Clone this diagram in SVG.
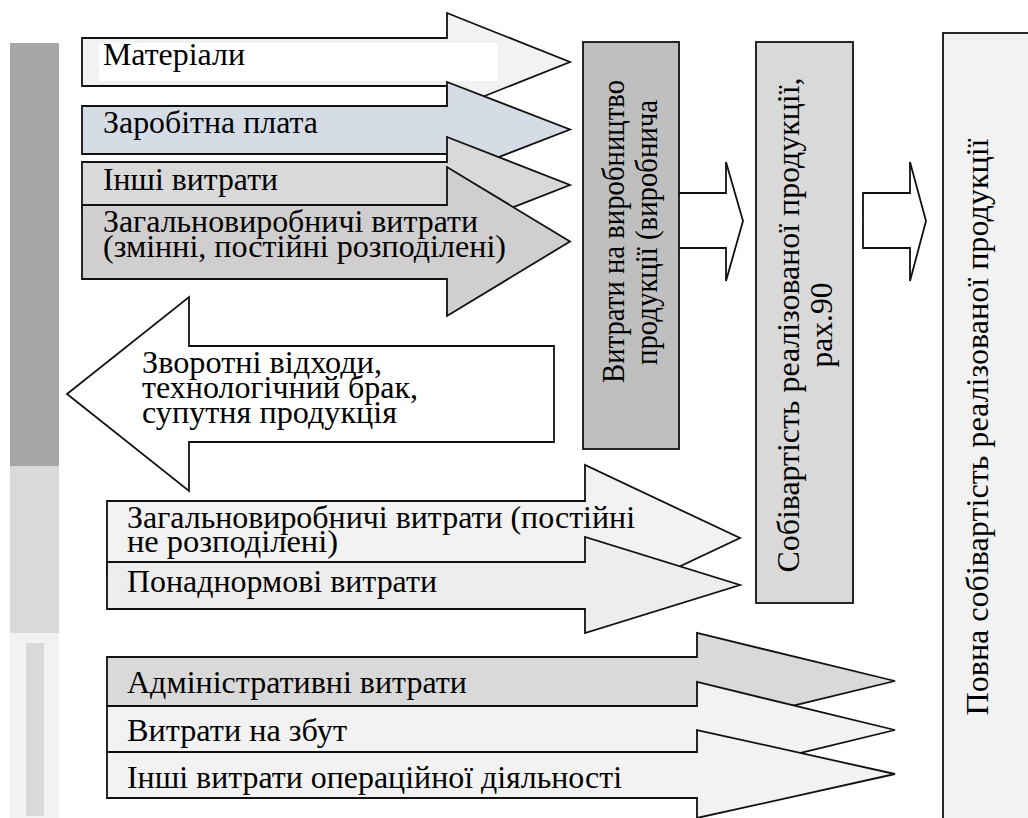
<svg xmlns="http://www.w3.org/2000/svg" width="1028" height="818" viewBox="0 0 1028 818">
<style>
  .ar{stroke:#111;stroke-width:1.8;stroke-linejoin:miter}
  .bx{stroke:#111;stroke-width:1.8}
  .t{font-family:'Liberation Serif','Times New Roman',serif;font-size:32px;fill:#000}
  .mid{text-anchor:middle}
</style>
<rect width="1028" height="818" fill="#fff"/>
<g id="sidebar">
  <rect x="10" y="43" width="49" height="423" fill="#a6a6a6"/>
  <rect x="10" y="466" width="49" height="167" fill="#d9d9d9"/>
  <rect x="10" y="633" width="49" height="185" fill="#f2f2f2"/>
  <rect x="26" y="643" width="18" height="173" fill="#d9d9d9"/>
</g>
<g id="connectors">
  <path class="ar" fill="#fff" d="M679,193 H726 V162 L743,221 L726,281 V248 H679"/>
  <polygon class="ar" fill="#fff" points="863,193 910,193 910,162 926,221 910,281 910,248 863,248"/>
</g>
<g id="n-materialy">
  <polygon class="ar" fill="#f2f2f2" points="82,38 447,38 447,13 570,62 447,111 447,86 82,86"/>
  <rect x="99" y="43" width="399" height="38" fill="#fff"/>
  <text class="t" x="103" y="65" textLength="142" lengthAdjust="spacingAndGlyphs">Матеріали</text>
</g>
<g id="n-zarplata">
  <polygon class="ar" fill="#d6dce5" points="82,106 447,106 447,82 570,129.5 447,177 447,154 82,154"/>
  <text class="t" x="103" y="133" textLength="215" lengthAdjust="spacingAndGlyphs">Заробітна плата</text>
</g>
<g id="n-inshi">
  <polygon class="ar" fill="#d9d9d9" points="82,162 447,162 447,137 570,185 447,233 447,208 82,208"/>
  <text class="t" x="103" y="190" textLength="175" lengthAdjust="spacingAndGlyphs">Інші витрати</text>
</g>
<g id="n-zagalno1">
  <polygon class="ar" fill="#d0cece" points="82,205 447,205 447,167 570,241.5 447,316 447,279 82,279"/>
  <text class="t" x="103" y="232" textLength="375" lengthAdjust="spacingAndGlyphs">Загальновиробничі витрати</text>
  <text class="t" x="103" y="257" textLength="403" lengthAdjust="spacingAndGlyphs">(змінні, постійні розподілені)</text>
</g>
<g id="n-vidkhody">
  <polygon class="ar" fill="#fff" points="554,346 189,346 189,297 67,394 189,491 189,442 554,442"/>
  <text class="t" x="142" y="373" textLength="240" lengthAdjust="spacingAndGlyphs">Зворотні відходи,</text>
  <text class="t" x="142" y="398" textLength="276" lengthAdjust="spacingAndGlyphs">технологічний брак,</text>
  <text class="t" x="142" y="423" textLength="255" lengthAdjust="spacingAndGlyphs">супутня продукція</text>
</g>
<g id="n-zagalno2">
  <polygon class="ar" fill="#f2f2f2" points="107,501 585,501 585,465 740,538 585,611 585,575 107,575"/>
  <text class="t" x="127" y="528" textLength="508" lengthAdjust="spacingAndGlyphs">Загальновиробничі витрати (постійні</text>
  <text class="t" x="127" y="552" textLength="211" lengthAdjust="spacingAndGlyphs">не розподілені)</text>
</g>
<g id="n-ponadnorm">
  <polygon class="ar" fill="#ededed" points="107,562 585,562 585,537 740,585 585,633 585,609 107,609"/>
  <text class="t" x="127" y="592" textLength="310" lengthAdjust="spacingAndGlyphs">Понаднормові витрати</text>
</g>
<g id="n-admin">
  <polygon class="ar" fill="#d9d9d9" points="107,657 697,657 697,633 895,681 697,729 697,706 107,706"/>
  <text class="t" x="127" y="693" textLength="340" lengthAdjust="spacingAndGlyphs">Адміністративні витрати</text>
</g>
<g id="n-zbut">
  <polygon class="ar" fill="#f2f2f2" points="107,706 697,706 697,682 895,730 697,778 697,752 107,752"/>
  <text class="t" x="127" y="741" textLength="220" lengthAdjust="spacingAndGlyphs">Витрати на збут</text>
</g>
<g id="n-inshi-oper">
  <polygon class="ar" fill="#f2f2f2" points="107,752 697,752 697,730 895,774 697,818 697,798 107,798"/>
  <text class="t" x="127" y="788" textLength="495" lengthAdjust="spacingAndGlyphs">Інші витрати операційної діяльності</text>
</g>
<g id="n-vyrobnytstvo">
  <rect class="bx" x="583" y="42" width="96" height="407" fill="#bfbfbf"/>
  <text class="t" transform="translate(624,383) rotate(-90)" textLength="303" lengthAdjust="spacingAndGlyphs">Витрати на виробництво</text>
  <text class="t" transform="translate(657,365) rotate(-90)" textLength="265" lengthAdjust="spacingAndGlyphs">продукції (виробнича</text>
</g>
<g id="n-sobivartist">
  <rect class="bx" x="756" y="42" width="97" height="561" fill="#d9d9d9"/>
  <text class="t mid" transform="translate(799,325) rotate(-90)" textLength="495" lengthAdjust="spacingAndGlyphs">Собівартість реалізованої продукції,</text>
  <text class="t mid" transform="translate(832,325) rotate(-90)" textLength="85" lengthAdjust="spacingAndGlyphs">рах.90</text>
</g>
<g id="n-povna">
  <rect class="bx" x="943" y="33" width="90" height="790" fill="#f2f2f2"/>
  <text class="t mid" transform="translate(988,427) rotate(-90)" textLength="577" lengthAdjust="spacingAndGlyphs">Повна собівартість реалізованої продукції</text>
</g>
</svg>
